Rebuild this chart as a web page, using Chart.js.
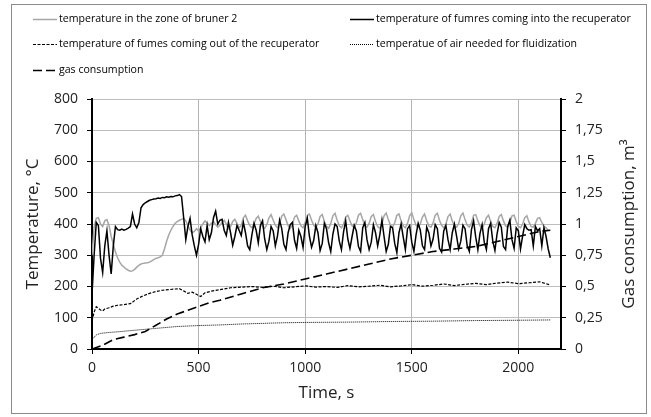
<!DOCTYPE html>
<html>
<head>
<meta charset="utf-8">
<script src="https://cdn.jsdelivr.net/npm/chart.js@4.4.1/dist/chart.umd.min.js"></script>
<style>
  body { margin: 0; background: #fff; }
</style>
</head>
<body>
<canvas id="myChart" width="651" height="417"></canvas>
<script>
const ctx = document.getElementById('myChart');

// readings of the two upper curves, one every 10 s
const sampleStep = 10;

const fumesInTemp = [
  175, 300, 405, 395, 290, 245, 330, 378, 300, 240,
  330, 392, 382, 380, 384, 380, 383, 387, 392, 432,
  400, 388, 405, 452, 462, 468, 472, 476, 478, 480,
  481, 483, 482, 485, 484, 487, 486, 488, 487, 490,
  491, 494, 488, 420, 350, 392, 418, 365, 330, 300,
  335, 385, 360, 343, 395, 350, 372, 420, 441, 400,
  412, 415, 380, 363, 405, 372, 332, 360, 395, 380,
  363, 405, 372, 330, 318, 365, 402, 380, 340, 395,
  410, 352, 318, 345, 392, 378, 330, 362, 412, 385,
  335, 318, 372, 398, 405, 348, 322, 380, 360, 325,
  392, 418, 360, 326, 348, 395, 372, 315, 338, 402,
  385, 340, 312, 368, 400, 392, 345, 318, 375, 410,
  352, 322, 360, 396, 378, 328, 312, 388, 405, 350,
  318, 342, 398, 372, 330, 365, 412, 360, 312, 335,
  392, 388, 338, 308, 372, 400, 358, 318, 385, 395,
  342, 312, 365, 402, 380, 330, 318, 390, 372, 330,
  352, 398, 385, 322, 310, 378, 395, 350, 318, 372,
  400, 362, 320, 345, 396, 385, 330, 312, 382, 410,
  358, 318, 370, 398, 342, 318, 385, 402, 345, 315,
  368, 405, 390, 328, 318, 392, 412, 350, 322, 388,
  378, 320, 362, 398, 385, 380, 382, 330, 392, 378,
  385, 330, 388, 360, 320, 292
];

const burnerZoneTemp = [
  300, 390, 418, 420, 400, 392, 410, 414, 395, 360,
  335, 310, 292, 278, 268, 262, 256, 252, 249, 250,
  255, 262, 268, 272, 274, 275, 276, 278, 282, 286,
  290, 292, 295, 300, 320, 345, 365, 380, 392, 402,
  408, 412, 415, 418, 410, 395, 380, 372, 376, 385,
  378, 388, 400, 410, 404, 395, 402, 408, 398, 390,
  396, 405, 412, 400, 385, 392, 408, 415, 402, 388,
  395, 420, 428, 410, 395, 388, 400, 418, 425, 408,
  392, 386, 398, 420, 430, 412, 396, 388, 402, 425,
  432, 414, 395, 386, 398, 422, 428, 410, 394, 388,
  405, 428, 432, 412, 396, 390, 400, 424, 430, 408,
  393, 386, 402, 426, 434, 412, 395, 388, 400, 422,
  428, 410, 394, 388, 404, 428, 434, 414, 396, 390,
  402, 424, 430, 408, 392, 386, 400, 426, 435, 414,
  396, 390, 404, 428, 432, 410, 394, 388, 402, 426,
  436, 414, 396, 390, 400, 422, 432, 410, 394, 390,
  404, 428, 434, 412, 396, 388, 400, 424, 432, 410,
  395, 390, 402, 426, 435, 414, 396, 390, 404, 428,
  430, 410, 394, 388, 400, 420, 428, 408, 392, 388,
  402, 424, 430, 410, 394, 390, 404, 426, 428, 408,
  392, 388, 400, 420, 426, 406, 392, 390, 402, 418,
  420, 405, 392, 388, 380
];

const fumesOutTime = [0, 10, 20, 30, 40, 50, 60, 80, 100, 120, 150, 180, 210, 240, 270, 300, 330, 360, 390, 410,
  430, 450, 470, 490, 510, 530, 560, 600, 650, 700, 750, 800, 850, 900, 950, 1000, 1050, 1100, 1150, 1200,
  1250, 1300, 1350, 1400, 1450, 1500, 1550, 1600, 1650, 1700, 1750, 1800, 1850, 1900, 1950, 2000, 2050, 2100, 2150];
const fumesOutTemp = [90, 118, 135, 130, 125, 122, 128, 132, 137, 140, 142, 145, 160, 170, 178, 184, 188, 190, 192, 193,
  186, 178, 182, 175, 168, 180, 185, 190, 196, 198, 200, 197, 201, 196, 199, 202, 198, 200, 197, 203,
  199, 201, 204, 199, 202, 206, 201, 204, 208, 203, 207, 210, 206, 211, 214, 209, 212, 215, 205];

const airTime = [0, 20, 40, 80, 120, 200, 300, 400, 500, 600, 700, 800, 900, 1000, 1200, 1400, 1600, 1800, 2000, 2150];
const airTemp = [30, 45, 50, 53, 55, 60, 66, 72, 75, 77, 80, 82, 84, 85, 86, 88, 89, 91, 92, 93];

const gasTime = [0, 50, 100, 150, 200, 250, 300, 350, 400, 450, 500, 550, 600, 700, 800, 900, 1000, 1100, 1200, 1300,
  1400, 1500, 1600, 1700, 1800, 1900, 2000, 2100, 2150];
const gasUsed = [0, 0.03, 0.075, 0.095, 0.115, 0.14, 0.19, 0.24, 0.28, 0.31, 0.34, 0.37, 0.39, 0.44, 0.49, 0.52, 0.56, 0.6, 0.64, 0.68,
  0.72, 0.75, 0.78, 0.8, 0.82, 0.86, 0.9, 0.94, 0.95];

const timeTicks = [0, 500, 1000, 1500, 2000];

const seriesNames = [
  'temperature in the zone of bruner 2',
  'temperature of fumres coming into the recuperator',
  'temperature of fumes coming out of the recuperator',
  'temperatue of air needed for fluidization',
  'gas consumption'
];

const toPoints = (xs, ys) => ys.map((y, i) => ({ x: xs[i], y: y }));
const stepped = (ys) => ys.map((y, i) => ({ x: i * sampleStep, y: y }));

const FONT = '"Open Sans", sans-serif';

// frame, Excel-like two column legend and the right axis title
const decorations = {
  id: 'decorations',
  beforeDraw(chart) {
    const c = chart.ctx;
    c.save();
    c.fillStyle = '#fff';
    c.fillRect(0, 0, chart.width, chart.height);
    c.strokeStyle = '#8a8a8a';
    c.lineWidth = 1;
    c.strokeRect(11.5, 4.5, 635, 409);
    c.restore();
  },
  afterDraw(chart) {
    const c = chart.ctx;
    const items = [
      { x: 33, y: 19, color: '#a6a6a6', w: 1.5, dash: [] },
      { x: 350, y: 19, color: '#000', w: 1.5, dash: [] },
      { x: 33, y: 44, color: '#000', w: 1.2, dash: [3, 1.5] },
      { x: 350, y: 44, color: '#000', w: 1, dash: [1, 1] },
      { x: 33, y: 70, color: '#000', w: 1.6, dash: [9, 4] }
    ];
    c.save();
    items.forEach((it, i) => {
      c.beginPath();
      c.strokeStyle = it.color;
      c.lineWidth = it.w;
      c.setLineDash(it.dash);
      c.moveTo(it.x, it.y + 0.5);
      c.lineTo(it.x + 24, it.y + 0.5);
      c.stroke();
      c.setLineDash([]);
      c.save();
      c.translate(it.x + 26, it.y);
      c.scale(0.92, 1);
      c.fillStyle = '#000';
      c.font = '11.5px ' + FONT;
      c.textBaseline = 'middle';
      c.fillText(seriesNames[i], 0, 0);
      c.restore();
    });

    const a = chart.chartArea;
    c.translate(629, (a.top + a.bottom) / 2);
    c.rotate(-Math.PI / 2);
    c.fillStyle = '#222';
    c.font = '17px ' + FONT;
    c.textAlign = 'center';
    c.textBaseline = 'middle';
    c.fillText('Gas consumption, m\u00b3', 0, 0);
    c.restore();
  }
};

const tickFont = { family: FONT, size: 14 };

const chart = new Chart(ctx, {
  type: 'line',
  data: {
    datasets: [
      {
        label: seriesNames[1],
        data: stepped(fumesInTemp),
        borderColor: '#000',
        borderWidth: 1.5,
        order: 0
      },
      {
        label: seriesNames[0],
        data: stepped(burnerZoneTemp),
        borderColor: '#a6a6a6',
        borderWidth: 1.5,
        order: 4
      },
      {
        label: seriesNames[2],
        data: toPoints(fumesOutTime, fumesOutTemp),
        borderColor: '#000',
        borderWidth: 1.2,
        borderDash: [3, 1.5],
        order: 2
      },
      {
        label: seriesNames[3],
        data: toPoints(airTime, airTemp),
        borderColor: '#000',
        borderWidth: 1,
        borderDash: [1, 1],
        order: 3
      },
      {
        label: seriesNames[4],
        data: toPoints(gasTime, gasUsed),
        borderColor: '#000',
        borderWidth: 1.6,
        borderDash: [9, 4],
        yAxisID: 'y2',
        order: 1
      }
    ]
  },
  options: {
    responsive: false,
    animation: false,
    devicePixelRatio: 1,
    elements: { point: { radius: 0 }, line: { tension: 0, fill: false } },
    layout: { padding: { left: 0, right: 0, top: 99, bottom: 0 } },
    plugins: {
      legend: { display: false },
      tooltip: { enabled: false }
    },
    scales: {
      x: {
        type: 'linear',
        min: 0,
        max: 2200,
        afterFit: (s) => { s.height = 68; },
        afterBuildTicks: (s) => { s.ticks = timeTicks.map(v => ({ value: v })); },
        ticks: { padding: 6, color: '#222', font: tickFont, maxRotation: 0, autoSkip: false, callback: (v) => String(v) },
        grid: { color: '#b4b4b4', lineWidth: 1, tickLength: 5, tickColor: '#000' },
        border: { color: '#000', width: 2 },
        title: { display: true, text: 'Time, s', color: '#222', font: { family: FONT, size: 17 }, padding: { top: 0, bottom: 14 } }
      },
      y: {
        position: 'left',
        min: 0,
        max: 800,
        afterFit: (s) => { s.width = 92; },
        ticks: { stepSize: 100, padding: 9, color: '#222', font: tickFont },
        grid: { color: '#bdbdbd', lineWidth: 1, tickLength: 5, tickColor: '#000' },
        border: { color: '#000', width: 2 },
        title: { display: true, text: 'Temperature, \u00b0C', color: '#222', font: { family: FONT, size: 17 }, padding: { top: 23, bottom: 0 } }
      },
      y2: {
        position: 'right',
        min: 0,
        max: 2,
        afterFit: (s) => { s.width = 90; },
        ticks: {
          stepSize: 0.25,
          padding: 9,
          color: '#222',
          font: tickFont,
          callback: (v) => String(v).replace('.', ',')
        },
        grid: { drawOnChartArea: false, tickLength: 5, tickColor: '#000' },
        border: { color: '#000', width: 2 }
      }
    }
  },
  plugins: [decorations]
});
</script>
</body>
</html>
